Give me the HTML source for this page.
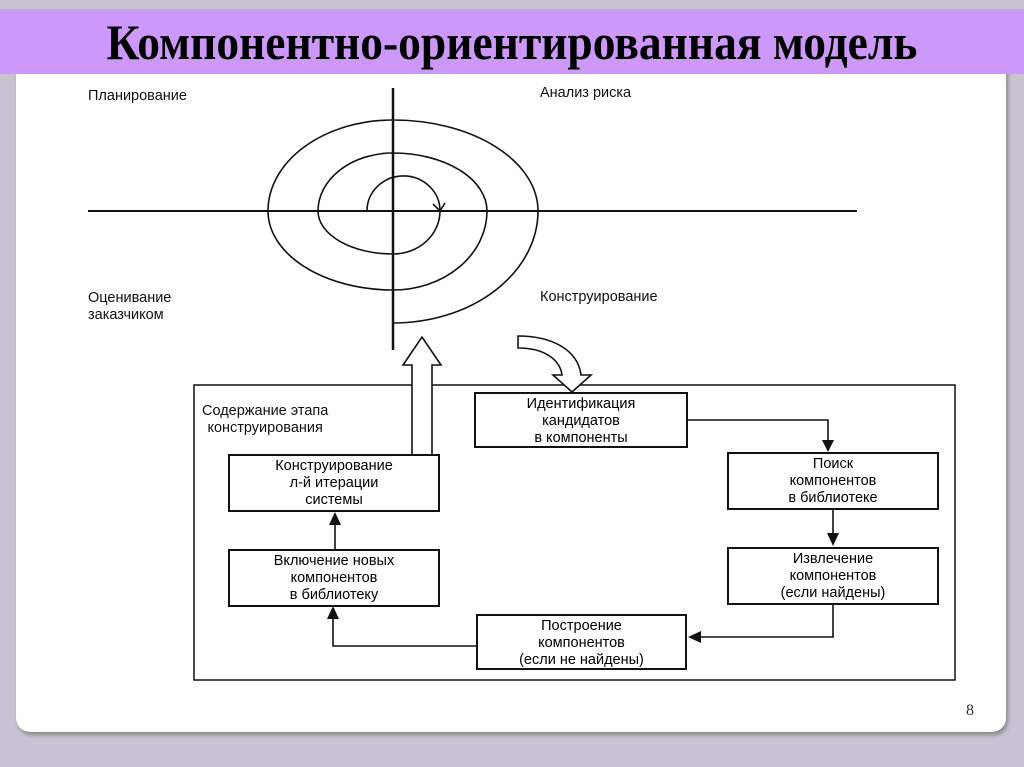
<!DOCTYPE html>
<html><head><meta charset="utf-8"><style>
body{margin:0;width:1024px;height:767px;background:#c9c4d4;position:relative;overflow:hidden;font-family:"Liberation Sans",sans-serif}
.slide{position:absolute;left:16px;top:60px;width:990px;height:672px;background:#fff;border-radius:0 0 14px 14px;box-shadow:2px 3px 4px #888}
.band{position:absolute;left:0;top:9px;width:1024px;height:65px;background:#cc99fa}
.title{position:absolute;left:0;width:1024px;top:13px;text-align:center;font-family:"Liberation Serif",serif;font-weight:bold;font-size:50px;color:#000;transform:scaleX(0.91);white-space:nowrap}
.t{position:absolute;font-size:14.5px;color:#111;line-height:17px}
.box{position:absolute;border:2px solid #111;box-sizing:border-box;text-align:center;font-size:14.5px;line-height:17px;padding-top:2px;background:#fff}
</style></head><body>
<div class="slide"></div>
<div class="band"></div>
<div class="title">Компонентно-ориентированная модель</div>
<svg style="position:absolute;left:0;top:0" width="1024" height="767">
<g fill="none" stroke="#111" stroke-width="1.6">
<line x1="88" y1="211" x2="857" y2="211" stroke-width="2"/>
<line x1="393" y1="88" x2="393" y2="350" stroke-width="2.5"/>
<path d="M367 211 A26 25 0 0 1 440 211 A47 43 0 0 1 393 254 A75 43 0 0 1 318 211 A75 58 0 0 1 393 153 A94 58 0 0 1 487 211 A94 79 0 0 1 393 290 A125 79 0 0 1 268 211 A125 91 0 0 1 393 120 A145 91 0 0 1 538 211 A145 112 0 0 1 393 323"/>
<path d="M433 204 L440 211 L445 203"/>
<rect x="194" y="385" width="761" height="295" stroke-width="1.5"/>
<path d="M412 455 L412 365 L403 365 L422 337 L441 365 L432 365 L432 455" fill="#fff"/>
<path d="M518 336 L518 348 C545 348 560 360 562 375 L553 375 L572 392 L591 375 L581 375 C578 350 552 336 518 336 Z" fill="#fff"/>
<polyline points="688,420 828,420 828,448"/>
<polyline points="833,510 833,543"/>
<polyline points="833,605 833,637 692,637"/>
<polyline points="476,646 333,646 333,610"/>
<polyline points="335,549 335,516"/>
</g>
<g fill="#111">
<polygon points="822,440 834,440 828,452"/>
<polygon points="827,533 839,533 833,546"/>
<polygon points="688,637 701,631 701,643"/>
<polygon points="333,606 327,619 339,619"/>
<polygon points="335,512 329,525 341,525"/>
</g>
</svg>
<div class="t" style="left:88px;top:88px">Планирование</div>
<div class="t" style="left:540px;top:85px">Анализ риска</div>
<div class="t" style="left:88px;top:290px">Оценивание<br>заказчиком</div>
<div class="t" style="left:540px;top:289px">Конструирование</div>
<div class="t" style="left:202px;top:403px;text-align:center">Содержание этапа<br>конструирования</div>
<div class="box" style="left:474px;top:392px;width:214px;height:56px">Идентификация<br>кандидатов<br>в компоненты</div>
<div class="box" style="left:228px;top:454px;width:212px;height:58px">Конструирование<br>л-й итерации<br>системы</div>
<div class="box" style="left:228px;top:549px;width:212px;height:58px">Включение новых<br>компонентов<br>в библиотеку</div>
<div class="box" style="left:727px;top:452px;width:212px;height:58px">Поиск<br>компонентов<br>в библиотеке</div>
<div class="box" style="left:727px;top:547px;width:212px;height:58px">Извлечение<br>компонентов<br>(если найдены)</div>
<div class="box" style="left:476px;top:614px;width:211px;height:56px">Построение<br>компонентов<br>(если не найдены)</div>
<div class="t" style="left:966px;top:702px;font-family:'Liberation Serif',serif;font-size:16px;color:#333">8</div>
</body></html>
